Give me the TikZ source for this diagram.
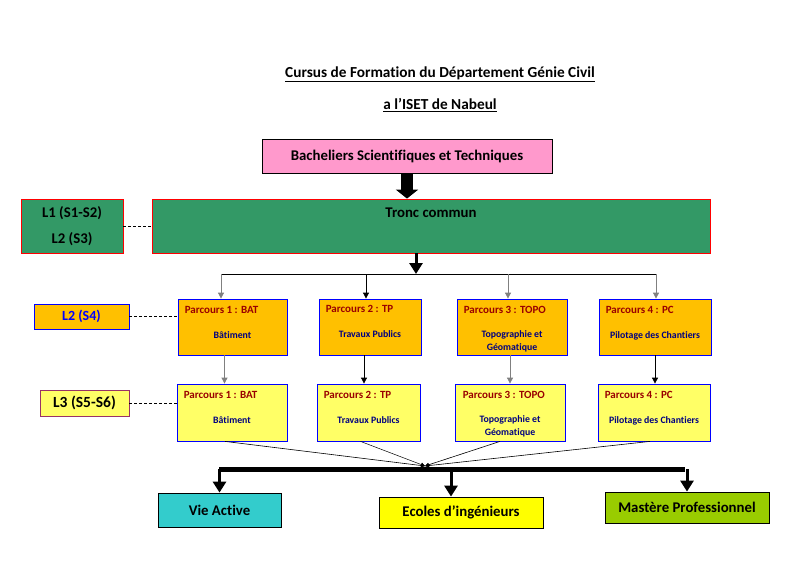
\documentclass[tikz,border=0pt]{standalone}
\usepackage{fontspec}
\setmainfont{Carlito}[Ligatures=NoCommon]
\usetikzlibrary{arrows.meta}

\definecolor{rose}{HTML}{FF99CC}
\definecolor{vert}{HTML}{339966}
\definecolor{orangebox}{HTML}{FFC000}
\definecolor{jaunepale}{HTML}{FFFF66}
\definecolor{jaune}{HTML}{FFFF00}
\definecolor{turquoise}{HTML}{33CCCC}
\definecolor{olive}{HTML}{99CC00}
\definecolor{rougefonce}{HTML}{990000}
\definecolor{bleufonce}{HTML}{000080}
\definecolor{prune}{HTML}{993366}

\begin{document}
\begin{tikzpicture}
	[x=1pt,y=-1pt,
	 box/.style={draw,rectangle,inner sep=0pt,line width=0.8pt,font=\fontsize{14.8}{17}\selectfont\bfseries},
	 parc/.style={box,draw=blue,minimum height=56},
	 ptitle/.style={inner sep=0pt,anchor=west,text=rougefonce,font=\fontsize{11}{12}\selectfont\bfseries},
	 psub/.style={inner sep=0pt,anchor=north,align=center,text=bleufonce,font=\fontsize{9.8}{13}\selectfont\bfseries},
	 ttl/.style={inner sep=0pt,font=\fontsize{15.3}{17}\selectfont\bfseries},
	 lien/.style={dash pattern=on 3pt off 2pt,line width=0.7pt},
	 fleche/.style={line width=0.8pt,-{Triangle[length=6pt,width=6pt]}},
	 grosse/.style={line width=3pt,-{Triangle[length=11pt,width=13pt]}},
	 bloc/.style={line width=12pt,-{Triangle[length=9pt,width=22pt]}}]

	\useasboundingbox (0,0) rectangle (800,565);

	\node[ttl] (ttl1) at (440,74) {\underline{Cursus de Formation du Département Génie Civil}};
	\node[ttl] (ttl2) at (440,105) {\underline{a l’ISET de Nabeul}};

	\node[box,fill=rose,minimum width=290,minimum height=34] (bach) at (407,156) {Bacheliers Scientifiques et Techniques};

	\node[box,draw=red,fill=vert,minimum width=558,minimum height=54] (tronc) at (431,226) {};
	\node[inner sep=0pt,font=\fontsize{14.8}{17}\selectfont\bfseries] (trtxt) at (431,213) {Tronc commun};
	\node[box,draw=red,fill=vert,minimum width=102,minimum height=54,align=center] (l1) at (72,226) {L1 (S1-S2)\\[9pt]L2 (S3)};
	\draw[lien] (l1) -- (tronc);

	\draw[bloc] (bach.south) -- (bach.south |- tronc.north);

	% niveau L2 (S4)
	\node[box,draw=blue,fill=orangebox,text=blue,minimum width=95,minimum height=25,font=\fontsize{14}{16}\selectfont\bfseries] (lvl2) at (81.5,316.5) {L2 (S4)};

	\node[parc,fill=orangebox,minimum width=109] (a1) at (232.5,327) {};
	\node[parc,fill=orangebox,minimum width=102] (a2) at (370,327) {};
	\node[parc,fill=orangebox,minimum width=110] (a3) at (512,327) {};
	\node[parc,fill=orangebox,minimum width=112] (a4) at (655,327) {};

	\node[ptitle] (ta1) at ([xshift=7pt,yshift=-11pt]a1.north west) {Parcours 1 : BAT};
	\node[ptitle] (ta2) at ([xshift=7pt,yshift=-10pt]a2.north west) {Parcours 2 : TP};
	\node[ptitle] (ta3) at ([xshift=7pt,yshift=-11pt]a3.north west) {Parcours 3 : TOPO};
	\node[ptitle] (ta4) at ([xshift=7pt,yshift=-11pt]a4.north west) {Parcours 4 : PC};

	\node[psub] (sa1) at ([yshift=-33pt]a1.north) {Bâtiment};
	\node[psub] (sa2) at ([yshift=-32pt]a2.north) {Travaux Publics};
	\node[psub] (sa3) at ([yshift=-32pt]a3.north) {Topographie et\\Géomatique};
	\node[psub] (sa4) at ([yshift=-33pt]a4.north) {Pilotage des Chantiers};

	\draw[lien] (lvl2.east) -- (lvl2.east -| a1.west);

	% niveau L3 (S5-S6)
	\node[box,draw=prune,fill=jaunepale,minimum width=89,minimum height=26,font=\fontsize{15.5}{17}\selectfont\bfseries] (lvl3) at (84.5,403) {L3 (S5-S6)};

	\node[parc,fill=jaunepale,minimum width=110,minimum height=57] (b1) at (232,412.5) {};
	\node[parc,fill=jaunepale,minimum width=103,minimum height=57] (b2) at (368.5,412.5) {};
	\node[parc,fill=jaunepale,minimum width=110,minimum height=57] (b3) at (510,412.5) {};
	\node[parc,fill=jaunepale,minimum width=112,minimum height=57] (b4) at (654,412.5) {};

	\node[ptitle] (tb1) at ([xshift=7pt,yshift=-11pt]b1.north west) {Parcours 1 : BAT};
	\node[ptitle] (tb2) at ([xshift=7pt,yshift=-11pt]b2.north west) {Parcours 2 : TP};
	\node[ptitle] (tb3) at ([xshift=8pt,yshift=-11pt]b3.north west) {Parcours 3 : TOPO};
	\node[ptitle] (tb4) at ([xshift=7pt,yshift=-11pt]b4.north west) {Parcours 4 : PC};

	\node[psub] (sb1) at ([yshift=-33pt]b1.north) {Bâtiment};
	\node[psub] (sb2) at ([yshift=-33pt]b2.north) {Travaux Publics};
	\node[psub] (sb3) at ([yshift=-32pt]b3.north) {Topographie et\\Géomatique};
	\node[psub] (sb4) at ([yshift=-33pt]b4.north) {Pilotage des Chantiers};

	\draw[lien] (lvl3.east) -- (lvl3.east -| b1.west);

	% repartition vers les parcours
	\coordinate (split) at (416,274);
	\coordinate (k1) at (221,274);
	\coordinate (k2) at (366,274);
	\coordinate (k3) at (508,274);
	\coordinate (k4) at (656,274);
	\draw[grosse] (tronc.south -| split) -- (split);
	\draw[line width=0.8pt] (k1) -- (k4);
	\draw[fleche,gray] (k1) -- (k1 |- a1.north);
	\draw[fleche] (k2) -- (k2 |- a2.north);
	\draw[fleche,gray] (k3) -- (k3 |- a3.north);
	\draw[fleche,gray] (k4) -- (k4 |- a4.north);

	\draw[fleche,gray] ([xshift=-8pt]a1.south) -- ([xshift=-8pt]a1.south |- b1.north);
	\draw[fleche] ([xshift=-6pt]a2.south) -- ([xshift=-6pt]a2.south |- b2.north);
	\draw[fleche,gray] ([xshift=-2pt]a3.south) -- ([xshift=-2pt]a3.south |- b3.north);
	\draw[fleche] (a4.south) -- (a4.south |- b4.north);

	% debouches
	\coordinate (meet) at (425,466);
	\draw[line width=0.6pt,-{Triangle[length=4pt,width=4pt]}] ([xshift=-7pt]b1.south) -- (meet);
	\draw[line width=0.5pt,-{Triangle[length=4pt,width=4pt]}] ([xshift=-8pt]b2.south) -- (meet);
	\draw[line width=0.6pt,-{Triangle[length=4pt,width=4pt]}] ([xshift=-10pt]b3.south) -- (meet);
	\draw[line width=0.6pt,-{Triangle[length=4pt,width=4pt]}] ([xshift=-4pt]b4.south) -- (meet);

	\node[box,fill=turquoise,minimum width=123,minimum height=34] (vie) at (219.5,510) {Vie Active};
	\node[box,fill=jaune,minimum width=164,minimum height=31] (eco) at (461,512.5) {Ecoles d’ingénieurs};
	\node[box,fill=olive,minimum width=164,minimum height=31] (mas) at (687,507.5) {Mastère Professionnel};

	\coordinate (barl) at (219,469);
	\coordinate (barm) at (451,469);
	\coordinate (barr) at (685,469);
	\draw[line width=5pt] (barl) -- (barr);
	\draw[grosse] (vie.north |- barl) -- (vie.north);
	\draw[grosse] (barm) -- (barm |- eco.north);
	\draw[grosse] (mas.north |- barr) -- (mas.north);

\end{tikzpicture}
\end{document}
